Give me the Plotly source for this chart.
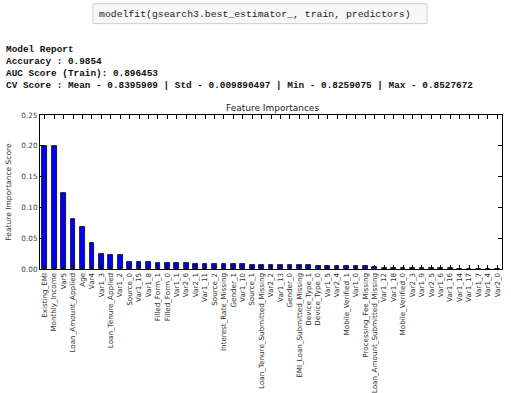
import plotly.graph_objects as go

features = ["Existing_EMI", "Monthly_Income", "Var5", "Loan_Amount_Applied", "Age", "Var4",
            "Var1_3", "Loan_Tenure_Applied", "Var1_2", "Source_0", "Var1_15", "Var1_8",
            "Filled_Form_1", "Filled_Form_0", "Var1_1", "Var2_6", "Var2_1", "Var1_11",
            "Source_2", "Interest_Rate_Missing", "Gender_1", "Var1_10", "Source_1",
            "Loan_Tenure_Submitted_Missing", "Var2_2", "Var1_13", "Gender_0",
            "EMI_Loan_Submitted_Missing", "Device_Type_1", "Device_Type_0", "Var1_5",
            "Var2_4", "Mobile_Verified_1", "Var1_0", "Processing_Fee_Missing",
            "Loan_Amount_Submitted_Missing", "Var1_12", "Var1_18", "Mobile_Verified_0",
            "Var2_3", "Var1_9", "Var2_5", "Var1_6", "Var1_16", "Var1_14", "Var1_17",
            "Var1_7", "Var1_4", "Var2_0"]

importances = [0.200, 0.200, 0.124, 0.081, 0.068, 0.043,
               0.025, 0.023, 0.022, 0.0115, 0.0115, 0.0115,
               0.0095, 0.0095, 0.0095, 0.0093, 0.0085, 0.0085,
               0.0078, 0.0075, 0.0075, 0.0075, 0.0072,
               0.0072, 0.0072, 0.0070, 0.0070,
               0.0058, 0.0058, 0.0056, 0.0056,
               0.0056, 0.0055, 0.0052, 0.0045,
               0.0035, 0.0015, 0.0012, 0.0012,
               0.0012, 0.0010, 0.0010, 0.0010, 0.0010, 0.0008, 0.0,
               0.0, 0.0, 0.0]

y_ticks = [0.00, 0.05, 0.10, 0.15, 0.20, 0.25]
y_tick_labels = ["0.00", "0.05", "0.10", "0.15", "0.20", "0.25"]

code_line = "modelfit(gsearch3.best_estimator_, train, predictors)"
report_lines = [
    "Model Report",
    "Accuracy : 0.9854",
    "AUC Score (Train): 0.896453",
    "CV Score : Mean - 0.8395909 | Std - 0.009890497 | Min - 0.8259075 | Max - 0.8527672",
]

W, H = 511, 393
L, R, T, B = 40, 502, 114.7, 269.3
pw, ph = R - L, B - T

def px(x):
    return (x - L) / pw

def py(y):
    return (B - y) / ph

fig = go.Figure()
fig.add_trace(go.Bar(
    x=features, y=importances, width=0.5,
    marker=dict(color="#0000ff", line=dict(color="black", width=0.8)),
))

axis_common = dict(showline=True, linecolor="black", linewidth=1, mirror="allticks",
                   ticks="inside", ticklen=4, tickcolor="black", showgrid=False,
                   zeroline=False, automargin=False)

fig.update_layout(
    width=W, height=H,
    margin=dict(l=L, r=W - R, t=T, b=H - B, pad=0, autoexpand=False),
    paper_bgcolor="white", plot_bgcolor="white",
    showlegend=False,
    title=dict(text="Feature Importances", x=(L + R) / 2 / W + 0.003, xanchor="center",
               y=1 - 108 / H, yanchor="middle",
               font=dict(family="DejaVu Sans", size=9, color="#222")),
    xaxis=dict(**axis_common, range=[-0.5, len(features) - 0.5], tickangle=-90,
               tickfont=dict(family="DejaVu Sans", size=7.2, color="#333")),
    yaxis=dict(**axis_common, range=[0, 0.25], tickvals=y_ticks, ticktext=y_tick_labels,
               tickfont=dict(family="DejaVu Sans", size=7.3, color="#444"),
               title=dict(text="Feature Importance Score", standoff=8,
                          font=dict(family="DejaVu Sans", size=7.5, color="#333"))),
    bargap=0,
)

# code cell box
fig.add_shape(type="rect", xref="paper", yref="paper",
              x0=px(93), x1=px(427), y0=py(23), y1=py(3),
              fillcolor="#f7f7f7", line=dict(color="#cfcfcf", width=1), layer="below")
fig.add_annotation(text=code_line, xref="paper", yref="paper", x=px(97), y=py(13.5),
                   xanchor="left", yanchor="middle", showarrow=False,
                   font=dict(family="Liberation Mono", size=9.8, color="#222"))

for i, line in enumerate(report_lines):
    fig.add_annotation(text="<b>" + line + "</b>", xref="paper", yref="paper",
                       x=px(4), y=py(49 + 12 * i), xanchor="left", yanchor="middle",
                       showarrow=False,
                       font=dict(family="Liberation Mono", size=9.4, color="#111"))

fig.write_html("out.html", config={"displayModeBar": False},
               post_script="document.body.style.margin='0px';document.body.style.overflow='hidden';")
